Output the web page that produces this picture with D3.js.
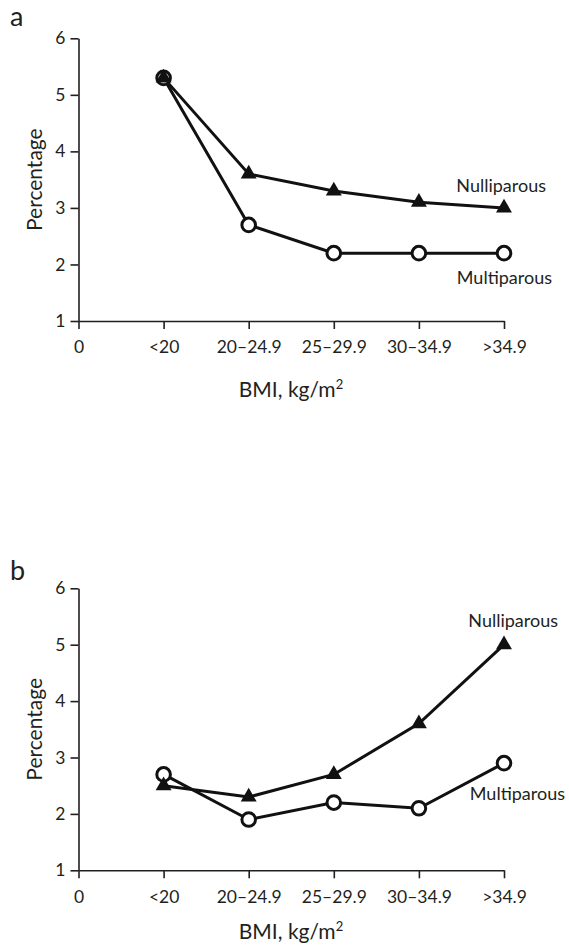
<!DOCTYPE html>
<html>
<head>
<meta charset="utf-8">
<script src="https://cdn.jsdelivr.net/npm/d3@7"></script>
<style>
    body { margin: 0; background: #fff; }
    text { font-family: Lato, "Open Sans", sans-serif; fill: #231f20; }
    .axis path, .axis line { stroke: #231f20; stroke-width: 1.6; }
    .axis text { font-size: 17.5px; }
</style>
</head>
<body>
<svg id="chart" width="569" height="945"></svg>
<script>
// categories on the x axis (0 is only a tick label)
let xTicks = ["0", "<20", "20\u201324.9", "25\u201329.9", "30\u201334.9", ">34.9"];
let categories = ["<20", "20\u201324.9", "25\u201329.9", "30\u201334.9", ">34.9"];
let yTicks = [1, 2, 3, 4, 5, 6];

// panel a
let nulliparousA = [5.3, 3.6, 3.3, 3.1, 3.0];
let multiparousA = [5.3, 2.7, 2.2, 2.2, 2.2];

// panel b
let nulliparousB = [2.5, 2.3, 2.7, 3.6, 5.0];
let multiparousB = [2.7, 1.9, 2.2, 2.1, 2.9];

let svg = d3.select("#chart");

function drawPanel(opts) {
    let x = d3.scalePoint().domain(xTicks).range([78.5, 504]);
    let y = d3.scaleLinear().domain([1, 6]).range([opts.bottom, opts.top]);

    let g = svg.append("g");

    // panel letter
    g.append("text")
        .attr("x", 10)
        .attr("y", opts.letterY)
        .style("font-size", "27px")
        .text(opts.letter);

    g.append("g")
        .attr("class", "axis")
        .attr("transform", "translate(0," + opts.bottom + ")")
        .call(d3.axisBottom(x).tickSize(8).tickSizeOuter(0).tickPadding(12));

    g.append("g")
        .attr("class", "axis")
        .attr("transform", "translate(78.5,0)")
        .call(d3.axisLeft(y).tickValues(yTicks).tickFormat(d3.format("d"))
            .tickSize(8).tickSizeOuter(0).tickPadding(5));

    // axis titles
    g.append("text")
        .attr("transform", "translate(42," + (opts.top + opts.bottom) / 2 + ") rotate(-90)")
        .attr("text-anchor", "middle")
        .style("font-size", "21px")
        .text("Percentage");

    let title = g.append("text")
        .attr("x", 291)
        .attr("y", opts.titleY)
        .attr("text-anchor", "middle")
        .style("font-size", "21px");
    title.append("tspan").text("BMI, kg/m");
    title.append("tspan").attr("dy", -8).style("font-size", "13px").text("2");

    let line = d3.line()
        .x(function (d, i) { return x(categories[i]); })
        .y(function (d) { return y(d); });

    g.append("path")
        .datum(opts.multi)
        .attr("d", line)
        .attr("fill", "none")
        .attr("stroke", "#111")
        .attr("stroke-width", 3);

    g.append("path")
        .datum(opts.nulli)
        .attr("d", line)
        .attr("fill", "none")
        .attr("stroke", "#111")
        .attr("stroke-width", 3);

    g.selectAll("circle")
        .data(opts.multi)
        .enter()
        .append("circle")
        .attr("cx", function (d, i) { return x(categories[i]); })
        .attr("cy", function (d) { return y(d); })
        .attr("r", 6.8)
        .attr("fill", "#fff")
        .attr("stroke", "#111")
        .attr("stroke-width", 3);

    g.selectAll("path.tri")
        .data(opts.nulli)
        .enter()
        .append("path")
        .attr("class", "tri")
        .attr("d", d3.symbol().type(d3.symbolTriangle).size(110))
        .attr("transform", function (d, i) {
            return "translate(" + x(categories[i]) + "," + y(d) + ")";
        })
        .attr("fill", "#111");

    // series labels, placed near the last point
    let lastX = x(categories[categories.length - 1]);
    g.append("text")
        .attr("x", lastX + opts.nulliLabel[0])
        .attr("y", y(opts.nulli[opts.nulli.length - 1]) + opts.nulliLabel[1])
        .attr("text-anchor", "end")
        .style("font-size", "18px")
        .text("Nulliparous");

    g.append("text")
        .attr("x", lastX + opts.multiLabel[0])
        .attr("y", y(opts.multi[opts.multi.length - 1]) + opts.multiLabel[1])
        .attr("text-anchor", "end")
        .style("font-size", "18px")
        .text("Multiparous");
}

drawPanel({
    letter: "a", letterY: 26,
    top: 38.3, bottom: 321, titleY: 397,
    nulli: nulliparousA, multi: multiparousA,
    nulliLabel: [42, -16], multiLabel: [48, 31]
});

drawPanel({
    letter: "b", letterY: 580,
    top: 588.3, bottom: 870.3, titleY: 939,
    nulli: nulliparousB, multi: multiparousB,
    nulliLabel: [54, -18], multiLabel: [61, 37]
});
</script>
</body>
</html>
